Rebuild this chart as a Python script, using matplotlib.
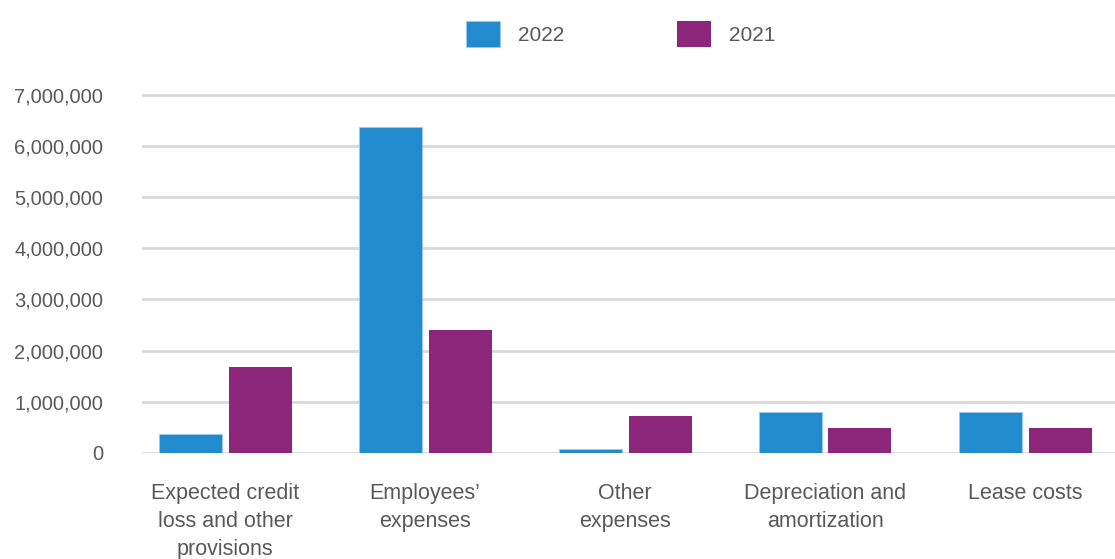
#!/usr/bin/env python

# Grouped bar chart of expenses, 2022 against 2021.

import numpy
import matplotlib
matplotlib.use('Agg')
import matplotlib.pyplot as plt
from matplotlib.ticker import FuncFormatter

categories = ['Expected credit\nloss and other\nprovisions',
              'Employees\u2019\nexpenses',
              'Other\nexpenses',
              'Depreciation and\namortization',
              'Lease costs']
values_2022 = [360000, 6370000, 70000, 790000, 790000]
values_2021 = [1680000, 2400000, 720000, 480000, 480000]
series_labels = ['2022', '2021']
yticks = [0, 1000000, 2000000, 3000000, 4000000, 5000000, 6000000, 7000000]

col_2022 = '#228bcd'
col_2021 = '#8c267b'
txt_col = '#595959'
grid_col = '#d9d9d9'
fam = ['Liberation Sans', 'DejaVu Sans']

plt.rcParams['font.family'] = fam

fig = plt.figure(figsize=(11.15, 5.59), dpi=100, facecolor='white')
# Axes placed by hand so the grid matches the original page
ax = fig.add_axes([142/1115, 106.3/559, 973/1115, 362.8/559])

x = numpy.arange(len(categories))
width = 0.315
off = 0.175
b1 = ax.bar(x - off, values_2022, width, color=col_2022,
            edgecolor='#9cc9ea', linewidth=0.6, zorder=3, label=series_labels[0])
b2 = ax.bar(x + off, values_2021, width, color=col_2021,
            linewidth=0, zorder=3, label=series_labels[1])

ax.set_xlim(-0.415, 4.45)
ax.set_ylim(0, 7.1e6)
ax.set_yticks(yticks)
ax.yaxis.set_major_formatter(FuncFormatter(lambda v, p: '{:,.0f}'.format(v)))
ax.set_xticks(x)
ax.set_xticklabels(categories, linespacing=1.42, fontsize=15.5)

ax.grid(axis='y', color=grid_col, linewidth=2.0, zorder=0)
ax.set_axisbelow(True)
for s in ax.spines.values():
    s.set_visible(False)
ax.tick_params(axis='both', length=0, labelcolor=txt_col)
ax.tick_params(axis='y', labelsize=14.5, pad=28)
ax.tick_params(axis='x', pad=22)

leg = fig.legend(handles=[b1, b2], labels=series_labels,
                 loc='center', bbox_to_anchor=(621/1115, 1 - 34/559),
                 ncol=2, frameon=False, fontsize=15,
                 handlelength=1.6, handleheight=1.6,
                 handletextpad=0.9, columnspacing=5.4)
for t in leg.get_texts():
    t.set_color(txt_col)

fig.savefig('out.png', dpi=100, facecolor='white')
